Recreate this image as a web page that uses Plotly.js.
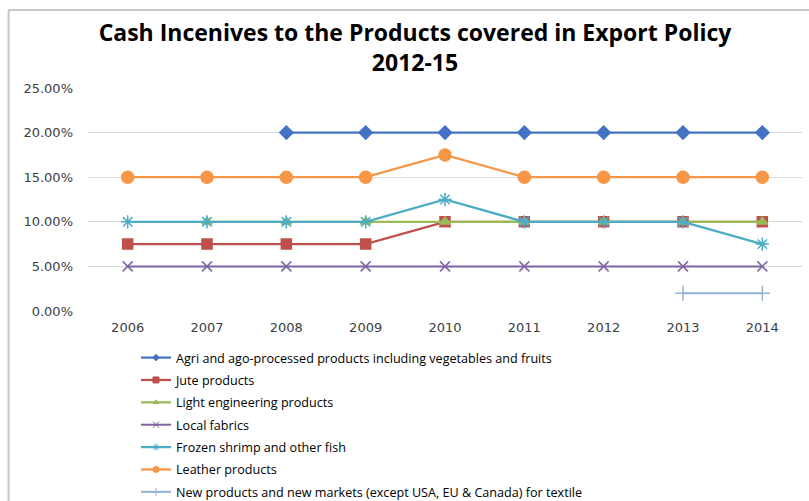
<!DOCTYPE html>
<html>
<head>
<meta charset="utf-8">
<script src="https://cdn.plot.ly/plotly-3.0.1.min.js"></script>
<style>html,body{margin:0;padding:0;background:#fff;}#chart{width:809px;height:501px;}</style>
</head>
<body>
<div id="chart"></div>
<script>
const years = ["2006","2007","2008","2009","2010","2011","2012","2013","2014"];
const agri = [null, null, 0.20, 0.20, 0.20, 0.20, 0.20, 0.20, 0.20];
const jute = [0.075, 0.075, 0.075, 0.075, 0.10, 0.10, 0.10, 0.10, 0.10];
const lightEng = [null, 0.10, 0.10, 0.10, 0.10, 0.10, 0.10, 0.10, 0.10];
const localFabrics = [0.05, 0.05, 0.05, 0.05, 0.05, 0.05, 0.05, 0.05, 0.05];
const frozenShrimp = [0.10, 0.10, 0.10, 0.10, 0.125, 0.10, 0.10, 0.10, 0.075];
const leather = [0.15, 0.15, 0.15, 0.15, 0.175, 0.15, 0.15, 0.15, 0.15];
const newProducts = [null, null, null, null, null, null, null, 0.02, 0.02];
const seriesNames = [
  "Agri and ago-processed products including vegetables and fruits",
  "Jute products",
  "Light engineering products",
  "Local fabrics",
  "Frozen shrimp and other fish",
  "Leather products",
  "New products and new markets (except USA, EU & Canada) for textile"
];
const yTicks = [0, 0.05, 0.10, 0.15, 0.20, 0.25];
const yTickLabels = ["0.00%", "5.00%", "10.00%", "15.00%", "20.00%", "25.00%"];

const FONT = "'Open Sans', 'Noto Sans', sans-serif";
const TICKFONT = "'DejaVu Sans', sans-serif";
const styles = [
  {color: "#4472C4", symbol: "diamond", size: 10, lw: 2.25, ls: 5},
  {color: "#C0504D", symbol: "square", size: 10, lw: 2.25, ls: 6},
  {color: "#9BBB59", symbol: "triangle-up", size: 9, lw: 2.25, ls: 5},
  {color: "#8064A2", symbol: "x-thin-open", size: 10, lw: 2, ls: 6},
  {color: "#4BACC6", symbol: "asterisk-open", size: 11, lw: 2.25, ls: 6},
  {color: "#F79646", symbol: "circle", size: 12, lw: 2.25, ls: 6},
  {color: "#95B3D7", symbol: "cross-thin-open", size: 11, lw: 2, ls: 6}
];
const seriesValues = [agri, jute, lightEng, localFabrics, frozenShrimp, leather, newProducts];

const data = [];
seriesValues.forEach((vals, i) => {
  const s = styles[i];
  data.push({
    x: years, y: vals, name: seriesNames[i], type: "scatter", mode: "lines+markers",
    connectgaps: false, showlegend: false, legendgroup: "g" + i,
    line: {color: s.color, width: s.lw},
    marker: {symbol: s.symbol, size: s.size, color: s.color, line: {color: s.color, width: 1.5}}
  });
});
// legend-only entries (smaller legend symbols, like the original)
seriesValues.forEach((vals, i) => {
  const s = styles[i];
  data.push({
    x: [null], y: [null], name: seriesNames[i], type: "scatter", mode: "lines+markers",
    legendgroup: "g" + i, showlegend: true,
    line: {color: s.color, width: s.lw},
    marker: {symbol: s.symbol, size: s.ls, color: s.color, line: {color: s.color, width: 1}}
  });
});

const layout = {
  width: 809, height: 501,
  paper_bgcolor: "#fff", plot_bgcolor: "#fff",
  font: {family: FONT, color: "#404040", size: 12},
  margin: {l: 87.5, r: 6.5, t: 88, b: 190, autoexpand: false},
  title: {
    text: "<b>Cash Incenives to the Products covered in Export Policy<br>2012-15</b>",
    font: {family: FONT, size: 23, color: "#000"},
    x: 0.513, xref: "container", xanchor: "center",
    y: 0.918, yref: "container", yanchor: "top"
  },
  xaxis: {
    type: "category", range: [-0.5, 8.5], showgrid: false, zeroline: false,
    showline: false, ticks: "",
    tickfont: {family: TICKFONT, size: 13, color: "#404040"},
    ticklabelstandoff: 7,
    fixedrange: true
  },
  yaxis: {
    range: [0, 0.25], tickvals: yTicks, ticktext: yTickLabels,
    showgrid: true, gridcolor: "#D9D9D9", gridwidth: 1.25, zeroline: false,
    showline: false, ticks: "",
    tickfont: {family: TICKFONT, size: 13, color: "#404040"},
    ticklabelstandoff: 14,
    fixedrange: true
  },
  showlegend: true,
  legend: {
    orientation: "v", x: 0.0672, xanchor: "left", y: -0.143, yanchor: "top",
    font: {family: FONT, size: 12.6, color: "#000"},
    tracegroupgap: 3, itemwidth: 30, bgcolor: "rgba(0,0,0,0)",
    traceorder: "grouped"
  },
  shapes: [
    {type: "line", xref: "paper", yref: "paper", x0: -0.1112, x1: 1.02, y0: 1.3498, y1: 1.3498, line: {color: "#C8C8C8", width: 2}},
    {type: "line", xref: "paper", yref: "paper", x0: -0.1112, x1: -0.1112, y0: 1.3498, y1: -0.9, line: {color: "#C8C8C8", width: 2}}
  ]
};
Plotly.newPlot("chart", data, layout, {displayModeBar: false, staticPlot: true});
</script>
</body>
</html>
